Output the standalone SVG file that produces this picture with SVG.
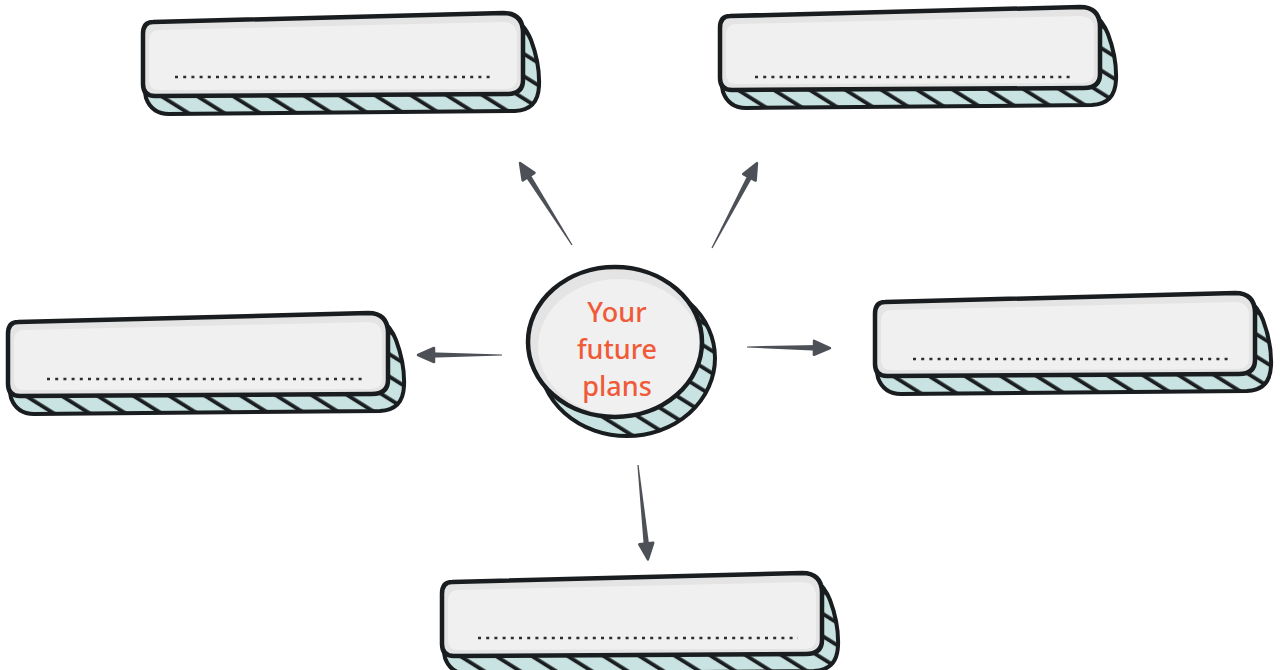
<svg xmlns="http://www.w3.org/2000/svg" xmlns:xlink="http://www.w3.org/1999/xlink" width="1284" height="670" viewBox="0 0 1284 670">
  <style>
    .edge { fill: url(#hatch); stroke: #1a1d1f; stroke-width: 4; stroke-linejoin: round; }
    .face { fill: #e3e4e3; stroke: none; }
    .faceIn { fill: #eff0ef; stroke: none; }
    .outline { fill: none; stroke: #1a1d1f; stroke-width: 4.5; stroke-linejoin: round; }
    .dots { fill: none; stroke: #2b2e31; stroke-width: 2.6; stroke-dasharray: 3 5.2; }
    .label { font-family: "Noto Sans", "Open Sans", sans-serif; font-size: 27px; font-weight: 500; fill: #f05a38; text-anchor: middle; }
    .shaft { fill: #4d5157; stroke: none; }
    .head { fill: #4d5157; stroke: #4d5157; stroke-width: 2.5; stroke-linejoin: round; }
  </style>
  <defs>
    <pattern id="hatch" width="10" height="10" patternUnits="userSpaceOnUse" patternTransform="rotate(-58) scale(1.9,1)">
      <rect width="10" height="10" fill="#c8e3e1"/>
      <line x1="2" y1="0" x2="2" y2="10" stroke="#1a1d1f" stroke-width="2"/>
    </pattern>
    <g id="box">
      <path class="edge" d="M 350,-8 Q 378,-8 388,18 Q 397,42 396,64 Q 395,88 372,89 L 26,92 Q 9,92 3,76 L 0,60 L 380,40 Z"/>
      <path class="face" d="M 10,0 L 360,-9 Q 380,-9 380,11 L 380,58 Q 380,72 364,72 L 12,74 Q 0,74 0,62 L 0,12 Q 0,0 10,0 Z"/>
      <path class="faceIn" d="M 16,8 L 360,0 Q 374,0 374,14 L 374,56 Q 374,67 362,67 L 16,68 Q 6,68 6,58 L 6,20 Q 6,8 16,8 Z"/>
      <path class="outline" d="M 10,0 L 360,-9 Q 380,-9 380,11 L 380,58 Q 380,72 364,72 L 12,74 Q 0,74 0,62 L 0,12 Q 0,0 10,0 Z"/>
    </g>
  </defs>
  <rect width="1284" height="670" fill="#ffffff"/>

  <g id="node-top-left">
    <use xlink:href="#box" href="#box" transform="translate(143,22)"/>
    <line class="dots" x1="175" y1="77" x2="493" y2="77"/>
  </g>
  <g id="node-top-right">
    <use xlink:href="#box" href="#box" transform="translate(720,16)"/>
    <line class="dots" x1="755" y1="77" x2="1074" y2="77"/>
  </g>
  <g id="node-left">
    <use xlink:href="#box" href="#box" transform="translate(8,322)"/>
    <line class="dots" x1="47" y1="379" x2="366" y2="379"/>
  </g>
  <g id="node-right">
    <use xlink:href="#box" href="#box" transform="translate(875,302)"/>
    <line class="dots" x1="913" y1="359" x2="1229" y2="359"/>
  </g>
  <g id="node-bottom">
    <use xlink:href="#box" href="#box" transform="translate(442,582)"/>
    <line class="dots" x1="478" y1="638" x2="798" y2="638"/>
  </g>

  <g id="node-center">
    <ellipse class="edge" cx="627" cy="358" rx="88" ry="78"/>
    <ellipse class="face" cx="615" cy="342" rx="87" ry="75"/>
    <ellipse class="faceIn" cx="619" cy="347" rx="81" ry="68"/>
    <ellipse class="outline" cx="615" cy="342" rx="87" ry="75"/>
    <text class="label" x="617" y="322">Your</text>
    <text class="label" x="617" y="359">future</text>
    <text class="label" x="617" y="396">plans</text>
  </g>

  <g id="connectors">
    <g transform="translate(572,245) rotate(-122.4)">
      <path class="shaft" d="M0,-0.6 L85,-2.8 L85,2.8 L0,0.6 Z"/>
      <path class="head" d="M81,-7 L97,0 L81,7 Z"/>
    </g>
    <g transform="translate(712,248) rotate(-62.1)">
      <path class="shaft" d="M0,-0.6 L84,-2.8 L84,2.8 L0,0.6 Z"/>
      <path class="head" d="M80,-7 L96,0 L80,7 Z"/>
    </g>
    <g transform="translate(502,355) rotate(180)">
      <path class="shaft" d="M0,-0.6 L72,-2.8 L72,2.8 L0,0.6 Z"/>
      <path class="head" d="M68,-7 L84,0 L68,7 Z"/>
    </g>
    <g transform="translate(747,347) rotate(0.7)">
      <path class="shaft" d="M0,-0.6 L71,-2.8 L71,2.8 L0,0.6 Z"/>
      <path class="head" d="M67,-7 L83,0 L67,7 Z"/>
    </g>
    <g transform="translate(638,465) rotate(84)">
      <path class="shaft" d="M0,-0.6 L83,-2.8 L83,2.8 L0,0.6 Z"/>
      <path class="head" d="M79,-7 L95,0 L79,7 Z"/>
    </g>
  </g>
</svg>
